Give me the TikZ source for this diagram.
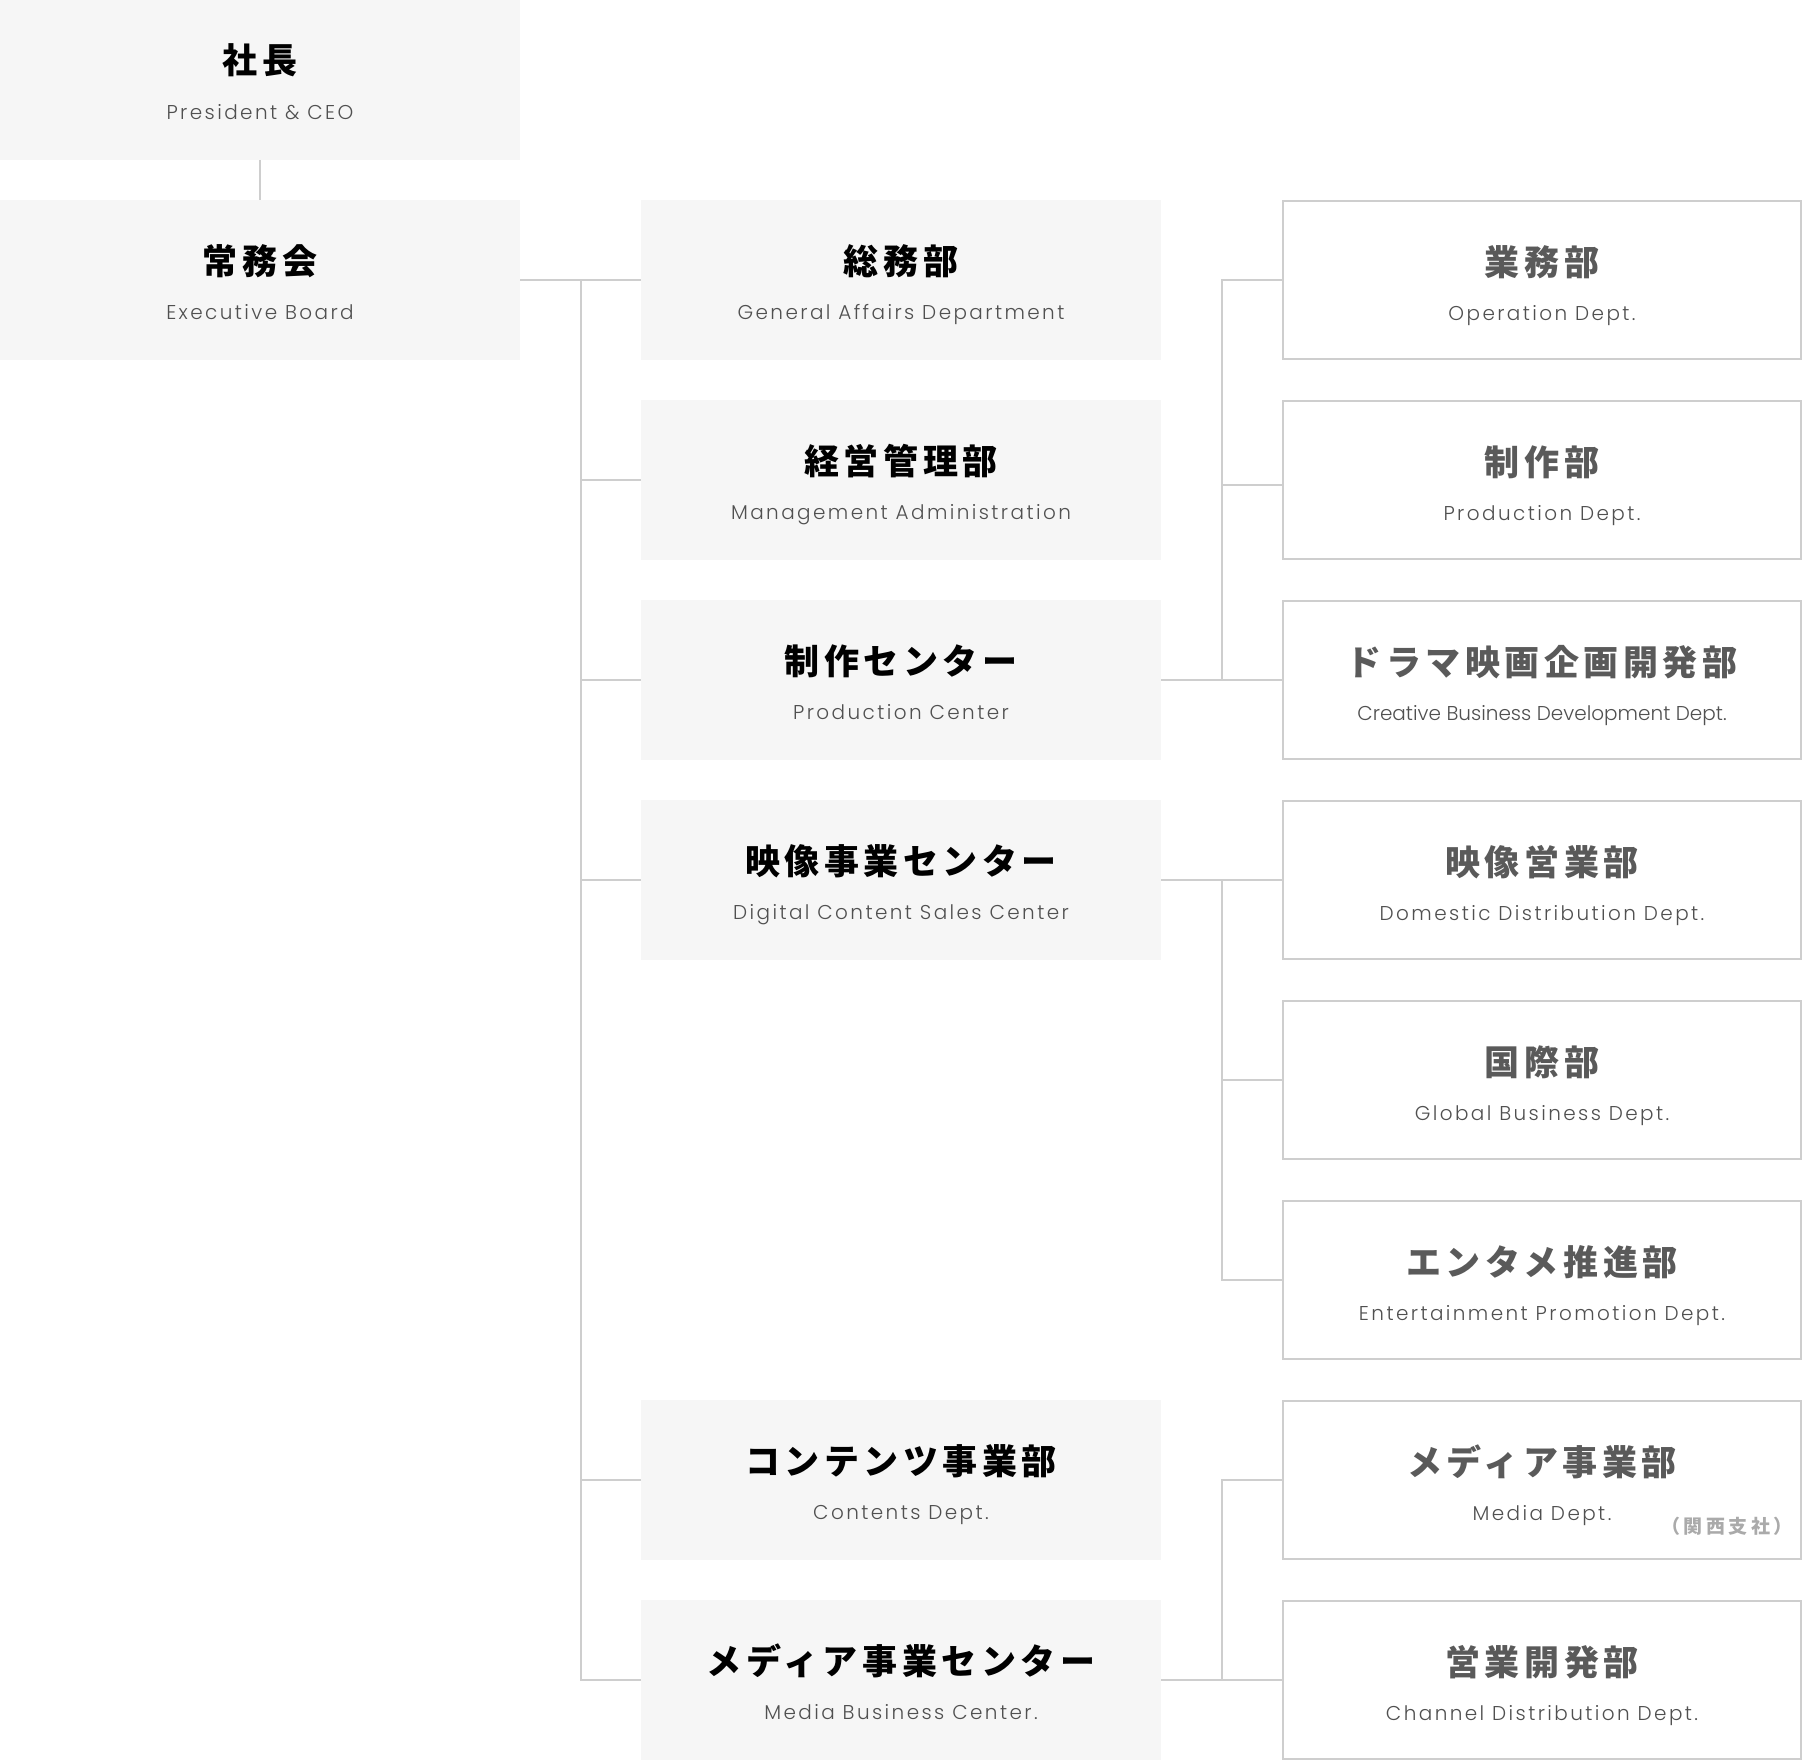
\documentclass[tikz,border=0pt]{standalone}
\usepackage{fontspec}
\usetikzlibrary{calc}
\newfontfamily\jptitle{Noto Sans CJK JP}[LetterSpace=13]
\newfontfamily\jpnote{Noto Sans CJK JP}[LetterSpace=18]
\newfontfamily\ensub{Poppins Light}[LetterSpace=12]
\newfontfamily\ensubtight{Poppins Light}
\definecolor{boxgray}{RGB}{246,246,246}
\definecolor{linegray}{RGB}{206,206,206}
\definecolor{subgray}{RGB}{80,80,80}
\definecolor{ttlgray}{RGB}{90,90,90}
\definecolor{notegray}{RGB}{170,170,170}
\newcommand\orgbox[6]{%
  \node[#2] (#1) at (#3,#4) {};
  \node[ttl,#6] (#1-t) at ($(#1.north)+(0,74)$) {#5};
}
\newcommand\orgsub[3]{%
  \node[sub,#3] (#1-s) at ($(#1.north)+(0,119.5)$) {#2};
}
\begin{document}
\begin{tikzpicture}[x=0.5pt,y=-0.5pt,
  graybox/.style={fill=boxgray, minimum width=260pt, minimum height=80pt, inner sep=0pt, outer sep=0pt},
  linebox/.style={draw=linegray, line width=1pt, fill=white, minimum width=259pt, minimum height=79pt, inner sep=0pt, outer sep=0pt},
  conn/.style={draw=linegray, line width=1pt},
  ttl/.style={anchor=base, inner sep=0pt, font=\jptitle\bfseries\fontsize{17.5}{20}\selectfont},
  dark/.style={text=black},
  light/.style={text=ttlgray},
  sub/.style={anchor=base, inner sep=0pt, font=\ensub\fontsize{10}{12}\selectfont, text=subgray},
  tight/.style={font=\ensubtight\fontsize{10}{12}\selectfont}]
\useasboundingbox (0,0) rectangle (1802,1760);
\fill[white] (0,0) rectangle (1802,1760);
% column 1
\orgbox{pres}{graybox}{260}{80}{社長}{dark}
\orgsub{pres}{President \& CEO}{}
\orgbox{board}{graybox}{260}{280}{常務会}{dark}
\orgsub{board}{Executive Board}{}
% column 2
\orgbox{gen}{graybox}{901}{280}{総務部}{dark}
\orgsub{gen}{General Affairs Department}{}
\orgbox{mgmt}{graybox}{901}{480}{経営管理部}{dark}
\orgsub{mgmt}{Management Administration}{}
\orgbox{prodc}{graybox}{901}{680}{制作センター}{dark}
\orgsub{prodc}{Production Center}{}
\orgbox{digc}{graybox}{901}{880}{映像事業センター}{dark}
\orgsub{digc}{Digital Content Sales Center}{}
\orgbox{cont}{graybox}{901}{1480}{コンテンツ事業部}{dark}
\orgsub{cont}{Contents Dept.}{}
\orgbox{mediac}{graybox}{901}{1680}{メディア事業センター}{dark}
\orgsub{mediac}{Media Business Center.}{}
% column 3
\orgbox{opd}{linebox}{1542}{280}{業務部}{light}
\orgsub{opd}{Operation Dept.}{}
\orgbox{prd}{linebox}{1542}{480}{制作部}{light}
\orgsub{prd}{Production Dept.}{}
\orgbox{drama}{linebox}{1542}{680}{ドラマ映画企画開発部}{light}
\orgsub{drama}{Creative Business Development Dept.}{tight}
\orgbox{dom}{linebox}{1542}{880}{映像営業部}{light}
\orgsub{dom}{Domestic Distribution Dept.}{}
\orgbox{glob}{linebox}{1542}{1080}{国際部}{light}
\orgsub{glob}{Global Business Dept.}{}
\orgbox{enta}{linebox}{1542}{1280}{エンタメ推進部}{light}
\orgsub{enta}{Entertainment Promotion Dept.}{}
\orgbox{medd}{linebox}{1542}{1480}{メディア事業部}{light}
\orgsub{medd}{Media Dept.}{}
\orgbox{sales}{linebox}{1542}{1680}{営業開発部}{light}
\orgsub{sales}{Channel Distribution Dept.}{}
\node[anchor=base, inner sep=0pt, font=\jpnote\bfseries\fontsize{9.5}{11}\selectfont, text=notegray] (kansai) at (1727,1533) {（関西支社）};
% trunks
\coordinate (t1) at (580.5,0);
\coordinate (t2) at (1221.5,0);
% connectors
\draw[conn] (pres.south) -- (board.north);
\draw[conn] (board.east) -- (gen.west);
\foreach \n in {mgmt,prodc,digc,cont,mediac}
  \draw[conn] (board.east -| t1) |- (\n.west);
\draw[conn] (prodc.east) -- (drama.west);
\draw[conn] (prodc.east -| t2) |- (opd.west);
\draw[conn] (prodc.east -| t2) |- ($(prd.west)+(0,5)$);
\draw[conn] (digc.east) -- (dom.west);
\draw[conn] (digc.east -| t2) |- (glob.west);
\draw[conn] (digc.east -| t2) |- (enta.west);
\draw[conn] (mediac.east) -- (sales.west);
\draw[conn] (mediac.east -| t2) |- (medd.west);
\end{tikzpicture}
\end{document}
